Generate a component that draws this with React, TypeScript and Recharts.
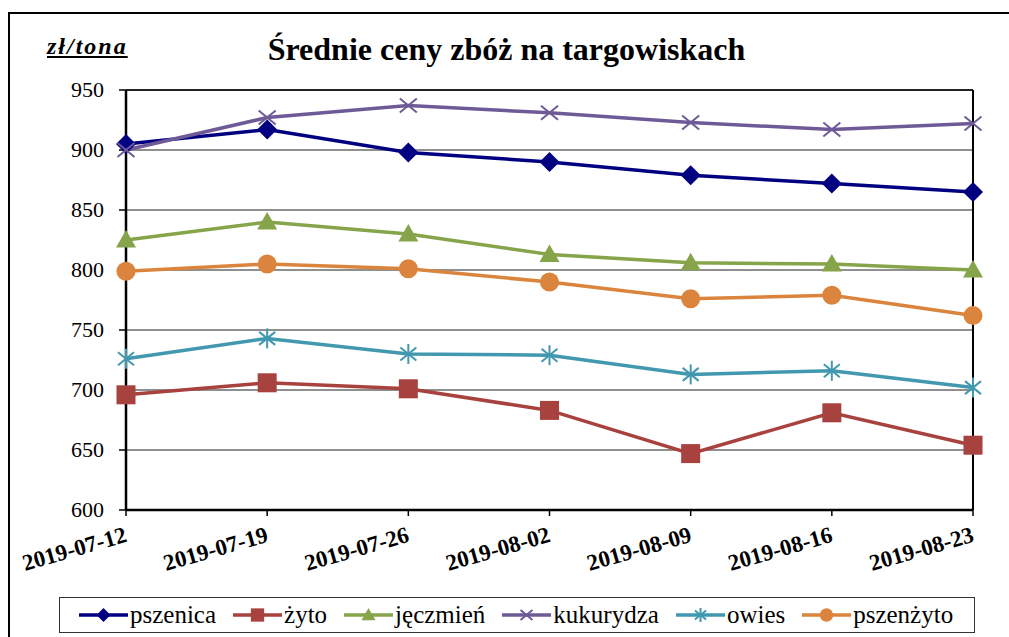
import { LineChart, Line, XAxis, YAxis, CartesianGrid, ReferenceLine } from "recharts";

const dates = ["2019-07-12", "2019-07-19", "2019-07-26", "2019-08-02", "2019-08-09", "2019-08-16", "2019-08-23"];
const pszenica = [905, 917, 898, 890, 879, 872, 865];
const zyto = [696, 706, 701, 683, 647, 681, 654];
const jeczmien = [825, 840, 830, 813, 806, 805, 800];
const kukurydza = [900, 927, 937, 931, 923, 917, 922];
const owies = [726, 743, 730, 729, 713, 716, 702];
const pszenzyto = [799, 805, 801, 790, 776, 779, 762];
const yTicks = [600, 650, 700, 750, 800, 850, 900, 950];

const FONT = "Liberation Serif";

type Shape = "diamond" | "square" | "triangle" | "cross" | "star" | "circle";

const series: { key: string; name: string; color: string; shape: Shape; values: number[] }[] = [
  { key: "pszenica", name: "pszenica", color: "#000080", shape: "diamond", values: pszenica },
  { key: "zyto", name: "żyto", color: "#A8423F", shape: "square", values: zyto },
  { key: "jeczmien", name: "jęczmień", color: "#86A44A", shape: "triangle", values: jeczmien },
  { key: "kukurydza", name: "kukurydza", color: "#6E5A96", shape: "cross", values: kukurydza },
  { key: "owies", name: "owies", color: "#4198AF", shape: "star", values: owies },
  { key: "pszenzyto", name: "pszenżyto", color: "#DB843D", shape: "circle", values: pszenzyto },
];

const data = dates.map((d, i) => {
  const row: Record<string, string | number> = { date: d };
  series.forEach((s) => (row[s.key] = s.values[i]));
  return row;
});

// marker glyph, s = half size
function marker(shape: Shape, cx: number, cy: number, s: number, color: string, key?: string) {
  switch (shape) {
    case "diamond":
      return <polygon key={key} points={`${cx},${cy - s} ${cx + s},${cy} ${cx},${cy + s} ${cx - s},${cy}`} fill={color} />;
    case "square":
      return <rect key={key} x={cx - s * 0.95} y={cy - s * 0.95} width={s * 1.9} height={s * 1.9} fill={color} />;
    case "triangle":
      return <polygon key={key} points={`${cx},${cy - s} ${cx + s},${cy + s * 0.75} ${cx - s},${cy + s * 0.75}`} fill={color} />;
    case "cross":
      return (
        <g key={key} stroke={color} strokeWidth={2}>
          <line x1={cx - s * 0.85} y1={cy - s * 0.7} x2={cx + s * 0.85} y2={cy + s * 0.7} />
          <line x1={cx - s * 0.85} y1={cy + s * 0.7} x2={cx + s * 0.85} y2={cy - s * 0.7} />
        </g>
      );
    case "star":
      return (
        <g key={key} stroke={color} strokeWidth={2}>
          <line x1={cx - s * 0.8} y1={cy - s * 0.65} x2={cx + s * 0.8} y2={cy + s * 0.65} />
          <line x1={cx - s * 0.8} y1={cy + s * 0.65} x2={cx + s * 0.8} y2={cy - s * 0.65} />
          <line x1={cx} y1={cy - s} x2={cx} y2={cy + s} />
        </g>
      );
    default:
      return <circle key={key} cx={cx} cy={cy} r={s * 0.95} fill={color} />;
  }
}

const XTick = ({ x, y, payload }: any) => (
  <g transform={`translate(${x},${y})`}>
    <text x={-5} y={25} transform="rotate(-16)" textAnchor="end" style={{ fontFamily: FONT }} fontWeight="bold" fontSize={23} fill="#000">
      {payload.value}
    </text>
  </g>
);

const YTick = ({ x, y, payload }: any) => (
  <text x={x} y={y} dy={7} textAnchor="end" style={{ fontFamily: FONT }} fontSize={22} fill="#000">
    {payload.value}
  </text>
);

export default function App() {
  return (
    <div style={{ position: "absolute", left: 0, top: 0, width: 1009, height: 637, background: "#fff", overflow: "hidden" }}>
      {/* outer frame, right and bottom edges fall outside the picture */}
      <div style={{ position: "absolute", left: 8, top: 12, width: 1020, height: 660, border: "2px solid #000" }} />
      <div style={{ position: "absolute", left: 47, top: 33, fontFamily: FONT, fontSize: 24, letterSpacing: 2, fontWeight: "bold", fontStyle: "italic", textDecoration: "underline" }}>
        zł/tona
      </div>
      <div style={{ position: "absolute", left: 0, width: 1013, top: 31, textAlign: "center", fontFamily: FONT, fontSize: 32, fontWeight: "bold" }}>
        Średnie ceny zbóż na targowiskach
      </div>
      <div style={{ position: "absolute", left: 0, top: 0 }}>
        <LineChart width={1009} height={637} data={data} margin={{ top: 90, right: 36, left: 0, bottom: 0 }}>
          <CartesianGrid vertical={false} stroke="#6a6a6a" strokeWidth={1.5} />
          <XAxis
            dataKey="date"
            height={127}
            tick={<XTick />}
            tickSize={6}
            tickMargin={0}
            interval={0}
            axisLine={{ stroke: "#000", strokeWidth: 2.5 }}
            tickLine={{ stroke: "#000", strokeWidth: 1.5 }}
          />
          <YAxis
            width={126}
            domain={[600, 950]}
            ticks={yTicks}
            interval={0}
            tickSize={7}
            tickMargin={15}
            axisLine={{ stroke: "#000", strokeWidth: 2.5 }}
            tickLine={{ stroke: "#000", strokeWidth: 1.5 }}
            tick={<YTick />}
          />
          <ReferenceLine y={950} stroke="#222" strokeWidth={2} />
          <ReferenceLine x={dates[dates.length - 1]} stroke="#000" strokeWidth={2} />
          {series.map((s) => (
            <Line
              key={s.key}
              dataKey={s.key}
              name={s.name}
              stroke={s.color}
              strokeWidth={3.5}
              isAnimationActive={false}
              dot={(p: any) => marker(s.shape, p.cx, p.cy, 10, s.color, `${s.key}-${p.index}`)}
              activeDot={false}
            />
          ))}
        </LineChart>
      </div>
      {/* legend */}
      <div
        style={{
          position: "absolute",
          left: 59,
          top: 597,
          width: 916,
          height: 36,
          border: "1.5px solid #333",
          display: "flex",
          alignItems: "center",
          paddingLeft: 19,
          boxSizing: "border-box",
        }}
      >
        {series.map((s) => (
          <div key={s.key} style={{ display: "flex", alignItems: "center", marginRight: 17 }}>
            <svg width={49} height={20}>
              <line x1={0} y1={10} x2={49} y2={10} stroke={s.color} strokeWidth={3.5} />
              {marker(s.shape, 24.5, 10, 7, s.color)}
            </svg>
            <span style={{ marginLeft: 2, lineHeight: "30px", fontFamily: FONT, fontSize: 25 }}>{s.name}</span>
          </div>
        ))}
      </div>
    </div>
  );
}
